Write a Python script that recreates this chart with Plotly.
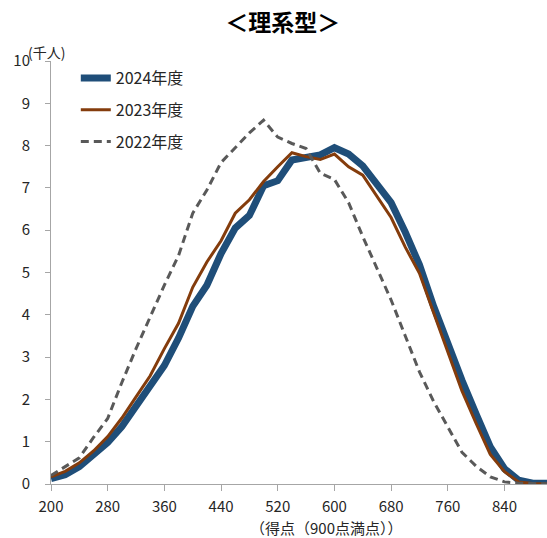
import plotly.graph_objects as go

scores = [200, 220, 240, 260, 280, 300, 320, 340, 360, 380, 400, 420, 440, 460, 480,
          500, 520, 540, 560, 580, 600, 620, 640, 660, 680, 700, 720, 740, 760, 780,
          800, 820, 840, 860, 880, 900]

y2024 = [0.13, 0.22, 0.41, 0.69, 0.98, 1.36, 1.82, 2.3, 2.8, 3.45, 4.2, 4.7, 5.45, 6.05,
         6.35, 7.05, 7.17, 7.66, 7.74, 7.78, 7.95, 7.8, 7.52, 7.1, 6.65, 5.95, 5.18,
         4.2, 3.3, 2.45, 1.65, 0.88, 0.36, 0.09, 0.02, 0.02]

y2023 = [0.17, 0.3, 0.5, 0.78, 1.12, 1.56, 2.06, 2.56, 3.2, 3.8, 4.65, 5.25, 5.75, 6.4,
         6.72, 7.15, 7.5, 7.83, 7.74, 7.67, 7.8, 7.5, 7.3, 6.8, 6.3, 5.6, 4.98,
         4.05, 3.15, 2.2, 1.43, 0.7, 0.29, 0.05, 0.01, 0.0]

y2022 = [0.2, 0.4, 0.62, 1.1, 1.55, 2.4, 3.2, 3.95, 4.7, 5.4, 6.4, 6.95, 7.6, 7.95,
         8.3, 8.6, 8.2, 8.05, 7.93, 7.35, 7.2, 6.65, 5.85, 5.1, 4.35, 3.5, 2.65,
         1.95, 1.35, 0.75, 0.42, 0.17, 0.05, 0.02, 0.01, 0.0]

x_ticks = [200, 280, 360, 440, 520, 600, 680, 760, 840]
y_ticks = [0, 1, 2, 3, 4, 5, 6, 7, 8, 9, 10]

FONT = "Noto Sans CJK JP"

fig = go.Figure()
fig.add_trace(go.Scatter(x=scores, y=y2024, mode="lines", name="2024年度",
                         legendgroup="a",
                         line=dict(color="#1F4E79", width=7)))
fig.add_trace(go.Scatter(x=scores, y=y2023, mode="lines", name="2023年度",
                         legendgroup="b",
                         line=dict(color="#843C0C", width=3)))
fig.add_trace(go.Scatter(x=scores, y=y2022, mode="lines", name="2022年度",
                         legendgroup="c",
                         line=dict(color="#595959", width=3, dash="8px,5px")))

fig.update_layout(
    width=547, height=538,
    margin=dict(l=51, r=0, t=61, b=54),
    paper_bgcolor="white", plot_bgcolor="white",
    font=dict(family=FONT, size=15, color="#262626"),
    title=dict(text="<b>＜理系型＞</b>", x=0.517, xanchor="center",
               y=0.957, yanchor="middle", font=dict(size=23, color="#000000")),
    showlegend=True,
    legend=dict(x=0.05, y=1.0, xanchor="left", yanchor="top",
                bgcolor="rgba(0,0,0,0)", tracegroupgap=8,
                font=dict(size=16, color="#262626")),
)

fig.update_xaxes(range=[200, 900], tickvals=x_ticks, ticktext=[str(v) for v in x_ticks],
                 showgrid=False, zeroline=False, showline=True, linecolor="#A6A6A6",
                 linewidth=1, ticks="outside", ticklen=6, tickcolor="#A6A6A6",
                 ticklabelstandoff=3)
fig.update_yaxes(range=[0, 10], tickvals=y_ticks, ticktext=[str(v) for v in y_ticks],
                 showgrid=False, zeroline=False, showline=True, linecolor="#A6A6A6",
                 linewidth=1, ticks="outside", ticklen=5, tickcolor="#A6A6A6",
                 ticklabelstandoff=12)

fig.add_annotation(text="(千人)", xref="paper", yref="paper", x=-0.05, y=0.993,
                   xanchor="left", yanchor="bottom", showarrow=False,
                   font=dict(size=14, color="#262626"))
fig.add_annotation(text="（得点（900点満点））", xref="paper", yref="paper",
                   x=0.555, y=-0.102, xanchor="center", yanchor="middle",
                   showarrow=False, font=dict(size=15, color="#262626"))

fig.write_html("out.html")
